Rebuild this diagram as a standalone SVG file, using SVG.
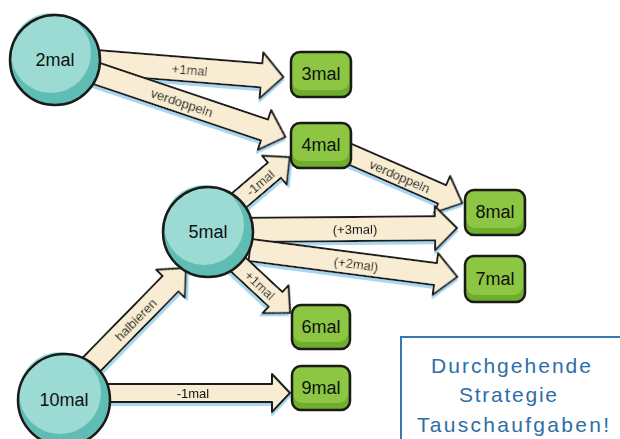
<svg xmlns="http://www.w3.org/2000/svg" width="620" height="439" viewBox="0 0 620 439">
<style>
.arr polygon{fill:#f8ecd2;stroke:#1e1e1e;stroke-width:2;stroke-linejoin:round}
.arr text{font-family:"Liberation Sans",Arial,sans-serif;font-size:13px;fill:#111;text-anchor:middle}
.cdark{fill:#5fbdb4}
.clight{fill:#9cdbd4}
.outline{fill:none;stroke:#1a1a1a;stroke-width:2.5}
.gdark{fill:#6fae2c}
.glight{fill:#8dc642}
.lbl{font-family:"Liberation Sans",Arial,sans-serif;font-size:18px;fill:#111;text-anchor:middle}
.note{font-family:"Liberation Sans",Arial,sans-serif;font-size:21px;fill:#2d6ea6;text-anchor:middle}
</style>
<defs>
<filter id="sh" x="-20%" y="-20%" width="140%" height="160%">
<feDropShadow dx="0" dy="3" stdDeviation="0.6" flood-color="#a9d6f0" flood-opacity="1"/>
</filter>
</defs>
<rect width="620" height="439" fill="#ffffff"/>
<g id="connectors">
<g class="arr" filter="url(#sh)" transform="translate(95,62) rotate(4.6)">
<polygon points="0,-12 167,-12 167,-23 189,0 167,23 167,12 0,12"/><text x="95" y="5">+1mal</text></g>
<g class="arr" filter="url(#sh)" transform="translate(92,72) rotate(18.6)">
<polygon points="0,-11 182,-11 182,-21 204,0 182,21 182,11 0,11"/><text x="95" y="5">verdoppeln</text></g>
<g class="arr" filter="url(#sh)" transform="translate(222,215) rotate(-40.5)">
<polygon points="0,-10 69,-10 69,-19 89,0 69,19 69,10 0,10"/><text x="50" y="5">-1mal</text></g>
<g class="arr" filter="url(#sh)" transform="translate(345,152) rotate(23.6)">
<polygon points="0,-10 106,-10 106,-20 128,0 106,20 106,10 0,10"/><text x="60" y="5">verdoppeln</text></g>
<g class="arr" filter="url(#sh)" transform="translate(240,230) rotate(-0.5)">
<polygon points="0,-12 195,-12 195,-22 217,0 195,22 195,12 0,12"/><text x="115" y="5">(+3mal)</text></g>
<g class="arr" filter="url(#sh)" transform="translate(250,250) rotate(7.4)">
<polygon points="0,-11 187,-11 187,-21 209,0 187,21 187,11 0,11"/><text x="107" y="5">(+2mal)</text></g>
<g class="arr" filter="url(#sh)" transform="translate(228,255) rotate(43)">
<polygon points="0,-10 65,-10 65,-19 85,0 65,19 65,10 0,10"/><text x="44" y="5">+1mal</text></g>
<g class="arr" filter="url(#sh)" transform="translate(88,368) rotate(-45.6)">
<polygon points="0,-11 118,-11 118,-20 140,0 118,20 118,11 0,11"/><text x="68" y="5">halbieren</text></g>
<g class="arr" filter="url(#sh)" transform="translate(105,393)">
<polygon points="0,-9 167,-9 167,-19 185,0 167,19 167,9 0,9"/><text x="88" y="5">-1mal</text></g>
</g>
<g id="n2mal">
<circle class="cdark" cx="55" cy="60" r="45"/><circle class="clight" cx="51" cy="53" r="40"/><circle class="outline" cx="55" cy="60" r="45"/>
<text class="lbl" x="55" y="66">2mal</text></g>
<g id="n5mal">
<circle class="cdark" cx="208" cy="232" r="45"/><circle class="clight" cx="204" cy="225" r="40"/><circle class="outline" cx="208" cy="232" r="45"/>
<text class="lbl" x="208" y="238">5mal</text></g>
<g id="n10mal">
<circle class="cdark" cx="64" cy="400" r="46"/><circle class="clight" cx="60" cy="393" r="41"/><circle class="outline" cx="64" cy="400" r="46"/>
<text class="lbl" x="64" y="406">10mal</text></g>
<g id="n3mal">
<rect class="gdark" x="291" y="52" width="60" height="45" rx="9"/><rect class="glight" x="292" y="52" width="57" height="38" rx="9"/><rect class="outline" x="291" y="52" width="60" height="45" rx="9"/>
<text class="lbl" x="321" y="80">3mal</text></g>
<g id="n4mal">
<rect class="gdark" x="291" y="123" width="60" height="45" rx="9"/><rect class="glight" x="292" y="123" width="57" height="38" rx="9"/><rect class="outline" x="291" y="123" width="60" height="45" rx="9"/>
<text class="lbl" x="321" y="151">4mal</text></g>
<g id="n8mal">
<rect class="gdark" x="465" y="190" width="60" height="45" rx="9"/><rect class="glight" x="466" y="190" width="57" height="38" rx="9"/><rect class="outline" x="465" y="190" width="60" height="45" rx="9"/>
<text class="lbl" x="495" y="218">8mal</text></g>
<g id="n7mal">
<rect class="gdark" x="465" y="256" width="60" height="46" rx="9"/><rect class="glight" x="466" y="256" width="57" height="39" rx="9"/><rect class="outline" x="465" y="256" width="60" height="46" rx="9"/>
<text class="lbl" x="495" y="285">7mal</text></g>
<g id="n6mal">
<rect class="gdark" x="292" y="305" width="58" height="44" rx="9"/><rect class="glight" x="293" y="305" width="55" height="37" rx="9"/><rect class="outline" x="292" y="305" width="58" height="44" rx="9"/>
<text class="lbl" x="321" y="333">6mal</text></g>
<g id="n9mal">
<rect class="gdark" x="292" y="366" width="58" height="44" rx="9"/><rect class="glight" x="293" y="366" width="55" height="37" rx="9"/><rect class="outline" x="292" y="366" width="58" height="44" rx="9"/>
<text class="lbl" x="321" y="394">9mal</text></g>
<g id="note">
<rect x="401" y="337" width="240" height="130" fill="#ffffff" stroke="#3a78b4" stroke-width="2"/>
<text class="note" x="511" y="373" textLength="160" lengthAdjust="spacing">Durchgehende</text>
<text class="note" x="508" y="402" textLength="98" lengthAdjust="spacing">Strategie</text>
<text class="note" x="513" y="432" textLength="192" lengthAdjust="spacing">Tauschaufgaben!</text>
</g>
</svg>
